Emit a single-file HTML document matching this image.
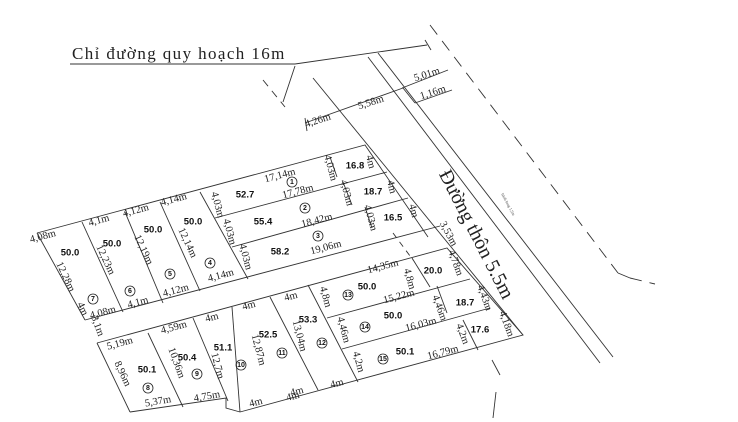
<!DOCTYPE html>
<html><head><meta charset="utf-8"><style>
html,body{margin:0;padding:0;background:#fff;}
svg{display:block;}
.t{font-family:"Liberation Serif",serif;font-size:10.5px;fill:#222;text-anchor:middle;dominant-baseline:middle;}
.a{font-family:"Liberation Sans",sans-serif;font-size:9.5px;font-weight:bold;fill:#111;text-anchor:middle;dominant-baseline:middle;}
.c{font-family:"Liberation Sans",sans-serif;font-size:7px;font-weight:bold;fill:#111;text-anchor:middle;dominant-baseline:middle;}
</style></head><body>
<svg width="738" height="422" viewBox="0 0 738 422" xmlns="http://www.w3.org/2000/svg">
<g stroke="#333" stroke-width="0.9" fill="none">
<line x1="70" y1="64" x2="295" y2="64"/>
<line x1="295" y1="64" x2="427" y2="45"/>
<line x1="295" y1="66" x2="283" y2="102"/>
<line x1="425" y1="40" x2="431" y2="50"/>
<line x1="313" y1="78" x2="523" y2="335"/>
<line x1="368" y1="57" x2="600" y2="363"/>
<line x1="378" y1="53" x2="613" y2="357"/>
<line x1="430" y1="25" x2="618" y2="273" stroke-dasharray="12,8"/>
<line x1="618" y1="273" x2="630" y2="278"/>
<line x1="630" y1="278" x2="655" y2="284" stroke-dasharray="12,8"/>
<line x1="263" y1="80" x2="285" y2="107" stroke-dasharray="8,6"/>
<line x1="393" y1="233" x2="413" y2="260" stroke-dasharray="6,5"/>
<line x1="492" y1="360" x2="500" y2="375"/>
<line x1="496" y1="392" x2="493" y2="418"/>
<line x1="305" y1="123" x2="403" y2="88"/>
<line x1="305" y1="118" x2="307" y2="131"/>
<line x1="402" y1="88" x2="448" y2="70"/>
<line x1="415" y1="103" x2="452" y2="90"/>
<line x1="403" y1="88" x2="415" y2="103"/>
<polyline points="37,233 365,145 428,237"/>
<line x1="37" y1="233" x2="85" y2="320"/>
<line x1="85" y1="320" x2="440" y2="226"/>
<line x1="82" y1="222" x2="123" y2="312"/>
<line x1="125" y1="212" x2="163" y2="303"/>
<line x1="160" y1="202" x2="200" y2="291"/>
<line x1="200" y1="192" x2="248" y2="279"/>
<line x1="215" y1="218" x2="387" y2="172"/>
<line x1="232" y1="247" x2="408" y2="198"/>
<line x1="330" y1="157" x2="337" y2="177"/>
<line x1="343" y1="182" x2="352" y2="205"/>
<line x1="365" y1="207" x2="372" y2="228"/>
<polyline points="97,343 447,248 523,335 240,412"/>
<line x1="97" y1="343" x2="130" y2="412"/>
<polyline points="130,412 226,398 226,408 240,412"/>
<line x1="148" y1="333" x2="183" y2="407"/>
<line x1="193" y1="318" x2="228" y2="401"/>
<line x1="232" y1="307" x2="240" y2="412"/>
<line x1="270" y1="297" x2="318" y2="390"/>
<line x1="308" y1="285" x2="358" y2="382"/>
<line x1="327" y1="318" x2="470" y2="279"/>
<line x1="342" y1="349" x2="490" y2="308"/>
<line x1="412" y1="258" x2="430" y2="287"/>
<line x1="437" y1="286" x2="447" y2="313"/>
<line x1="463" y1="320" x2="478" y2="350"/>
</g>
<text x="72" y="59" style="font-family:'Liberation Serif',serif;font-size:17px;letter-spacing:1.4px;fill:#222;">Chỉ đường quy hoạch 16m</text>
<text transform="translate(475,235) rotate(63)" style="font-family:'Liberation Serif',serif;font-size:20px;fill:#222;text-anchor:middle;dominant-baseline:middle;">Đường thôn 5.5m</text>
<text transform="translate(507,205) rotate(62)" style="font-family:'Liberation Serif',serif;font-size:4px;fill:#444;text-anchor:middle;">hành lang 1,5m</text>
<g class="t">
<text transform="translate(427,75) rotate(-18)">5,01m</text>
<text transform="translate(433,93) rotate(-18)">1,16m</text>
<text transform="translate(318,121) rotate(-18)">4,26m</text>
<text transform="translate(371,103) rotate(-18)">5,58m</text>
<text transform="translate(43,237) rotate(-15)">4,08m</text>
<text transform="translate(99,221) rotate(-15)">4,1m</text>
<text transform="translate(136,211) rotate(-15)">4,12m</text>
<text transform="translate(174,200) rotate(-15)">4,14m</text>
<text transform="translate(65,277) rotate(65)">12,28m</text>
<text transform="translate(105,260) rotate(65)">12,23m</text>
<text transform="translate(143,250) rotate(65)">12,19m</text>
<text transform="translate(187,243) rotate(65)">12,14m</text>
<text transform="translate(82,309) rotate(65)">4m</text>
<text transform="translate(103,313) rotate(-15)">4,08m</text>
<text transform="translate(138,303) rotate(-15)">4,1m</text>
<text transform="translate(176,291) rotate(-15)">4,12m</text>
<text transform="translate(221,276) rotate(-15)">4,14m</text>
<text transform="translate(217,205) rotate(75)">4,03m</text>
<text transform="translate(229,232) rotate(75)">4,03m</text>
<text transform="translate(245,257) rotate(75)">4,03m</text>
<text transform="translate(280,176) rotate(-15)">17,14m</text>
<text transform="translate(298,192) rotate(-15)">17,78m</text>
<text transform="translate(317,221) rotate(-15)">18,42m</text>
<text transform="translate(326,248) rotate(-15)">19,06m</text>
<text transform="translate(330,168) rotate(75)">4,03m</text>
<text transform="translate(370,162) rotate(75)">4m</text>
<text transform="translate(346,193) rotate(75)">4,03m</text>
<text transform="translate(391,187) rotate(75)">4m</text>
<text transform="translate(370,218) rotate(75)">4,03m</text>
<text transform="translate(413,211) rotate(75)">4m</text>
<text transform="translate(448,234) rotate(62)">3,53m</text>
<text transform="translate(383,267) rotate(-15)">14,35m</text>
<text transform="translate(409,279) rotate(75)">4,8m</text>
<text transform="translate(455,263) rotate(70)">4,78m</text>
<text transform="translate(325,297) rotate(75)">4,8m</text>
<text transform="translate(399,297) rotate(-15)">15,22m</text>
<text transform="translate(439,308) rotate(70)">4,46m</text>
<text transform="translate(484,298) rotate(70)">4,43m</text>
<text transform="translate(343,330) rotate(75)">4,46m</text>
<text transform="translate(421,325) rotate(-15)">16,03m</text>
<text transform="translate(462,334) rotate(70)">4,2m</text>
<text transform="translate(506,324) rotate(70)">4,18m</text>
<text transform="translate(358,362) rotate(75)">4,2m</text>
<text transform="translate(443,353) rotate(-15)">16,79m</text>
<text transform="translate(337,384) rotate(-15)">4m</text>
<text transform="translate(293,397) rotate(-15)">4m</text>
<text transform="translate(97,326) rotate(70)">3,1m</text>
<text transform="translate(120,344) rotate(-15)">5,19m</text>
<text transform="translate(174,328) rotate(-15)">4,59m</text>
<text transform="translate(212,318) rotate(-15)">4m</text>
<text transform="translate(249,306) rotate(-15)">4m</text>
<text transform="translate(291,297) rotate(-15)">4m</text>
<text transform="translate(122,374) rotate(65)">8,96m</text>
<text transform="translate(176,363) rotate(70)">10,36m</text>
<text transform="translate(217,366) rotate(75)">12,7m</text>
<text transform="translate(258,350) rotate(75)">12,87m</text>
<text transform="translate(299,336) rotate(75)">13,04m</text>
<text transform="translate(158,402) rotate(-10)">5,37m</text>
<text transform="translate(207,397) rotate(-10)">4,75m</text>
<text transform="translate(256,403) rotate(-15)">4m</text>
<text transform="translate(297,392) rotate(-15)">4m</text>
</g>
<g class="a">
<text x="70" y="253">50.0</text><text x="112" y="244">50.0</text><text x="153" y="230">50.0</text><text x="193" y="222">50.0</text>
<text x="245" y="195">52.7</text><text x="263" y="222">55.4</text><text x="280" y="252">58.2</text>
<text x="355" y="166">16.8</text><text x="373" y="192">18.7</text><text x="393" y="218">16.5</text>
<text x="433" y="271">20.0</text><text x="367" y="287">50.0</text><text x="465" y="303">18.7</text>
<text x="393" y="316">50.0</text><text x="480" y="330">17.6</text><text x="405" y="352">50.1</text>
<text x="147" y="370">50.1</text><text x="187" y="358">50.4</text><text x="223" y="348">51.1</text>
<text x="268" y="335">52.5</text><text x="308" y="320">53.3</text>
</g>
<g fill="none" stroke="#222" stroke-width="0.8">
<circle cx="292" cy="182" r="5"/><circle cx="305" cy="208" r="5"/><circle cx="318" cy="236" r="5"/>
<circle cx="210" cy="263" r="5"/><circle cx="170" cy="274" r="5"/><circle cx="130" cy="291" r="5"/><circle cx="93" cy="299" r="5"/>
<circle cx="148" cy="388" r="5"/><circle cx="197" cy="374" r="5"/><circle cx="241" cy="365" r="5"/><circle cx="282" cy="353" r="5"/><circle cx="322" cy="343" r="5"/>
<circle cx="348" cy="295" r="5"/><circle cx="365" cy="327" r="5"/><circle cx="383" cy="359" r="5"/>
</g>
<g class="c">
<text x="292" y="182">1</text><text x="305" y="208">2</text><text x="318" y="236">3</text>
<text x="210" y="263">4</text><text x="170" y="274">5</text><text x="130" y="291">6</text><text x="93" y="299">7</text>
<text x="148" y="388">8</text><text x="197" y="374">9</text><text x="241" y="365">10</text><text x="282" y="353">11</text><text x="322" y="343">12</text>
<text x="348" y="295">13</text><text x="365" y="327">14</text><text x="383" y="359">15</text>
</g>
</svg>
</body></html>
